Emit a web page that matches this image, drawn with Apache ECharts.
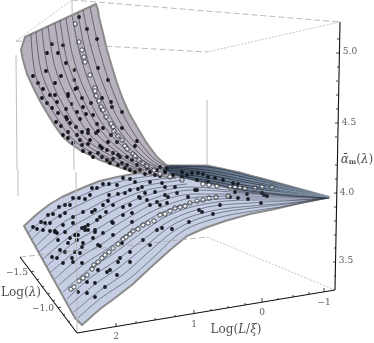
<!DOCTYPE html>
<html><head><meta charset="utf-8">
<style>html,body{margin:0;padding:0;background:#fff}#c{width:374px;height:343px}</style>
<script src="https://cdn.jsdelivr.net/npm/echarts@6/dist/echarts.min.js"></script>
</head><body><div id="c"></div>
<script>
// All coordinates below are projected plot-plane readings (x, y).
const upperOutline=[[25,37],[96,4],[98,10],[99,17],[103,33],[107,50],[112,67],[117,83],[122,97],[129,113],[137,127],[146,142],[157,157],[165,164],[172,168],[175,178],[133,172],[116,166],[100,160],[90,155],[80,150],[71,144],[63,137],[55,126],[47,113],[40,101],[33,87],[27,74],[23,60],[21,50]];
const lowerOutline=[[24,226],[37,214],[50,204],[62,197],[73,192],[87,186],[100,181],[117,177],[133,174],[150,171],[165,170],[207,168],[260,178],[329,197],[300,203],[275,209],[250,214],[225,221],[205,228],[187,236],[170,250],[150,268],[133,284],[115,298],[100,309],[82,325],[75,318]];
const bandOutline=[[167,165],[207,165],[240,172],[285,185],[329,197],[290,196],[240,191],[200,182],[180,177],[160,170]];
const upperMesh=[
[[31,34],[36,77],[52,110],[77,143],[114,162],[138,172]],
[[36,32],[42,74],[58,107],[82,141],[117,162],[141,171]],
[[42,29],[48,70],[63,105],[86,139],[121,161],[144,171]],
[[48,26],[55,67],[69,101],[92,137],[125,160],[147,171]],
[[55,23],[62,63],[76,98],[97,134],[129,160],[151,170]],
[[60,20],[67,60],[81,95],[102,132],[132,159],[153,170]],
[[66,18],[73,57],[86,93],[107,130],[136,158],[156,170]],
[[72,15],[80,54],[92,90],[112,128],[140,158],[159,169]],
[[78,13],[85,50],[97,87],[116,126],[143,157],[162,169]],
[[83,10],[91,47],[103,84],[121,124],[147,156],[165,169]],
[[90,7],[98,44],[109,81],[127,122],[151,156],[169,168]]];
const lowerMesh=[
[[28,233],[54,211],[77,198],[104,186],[137,178],[178,173]],
[[32,239],[57,217],[81,204],[108,192],[140,182],[181,177]],
[[36,246],[61,224],[85,211],[112,197],[144,186],[184,180]],
[[39,252],[65,231],[89,217],[116,202],[147,190],[187,184]],
[[43,259],[68,238],[93,223],[120,207],[151,194],[190,187],[245,192],[329,198]],
[[47,266],[72,244],[97,229],[124,213],[155,198],[193,190],[246,193],[329,198]],
[[51,272],[76,251],[101,235],[128,218],[158,202],[196,194],[247,194],[286,196],[329,198]],
[[55,279],[79,258],[105,242],[132,223],[162,207],[199,197],[247,196],[286,197],[329,198]],
[[59,285],[83,265],[109,248],[136,228],[165,211],[202,201],[248,198],[286,198],[329,198]],
[[63,292],[87,271],[113,254],[140,234],[169,215],[205,204],[249,200],[286,200],[329,198]],
[[67,299],[90,278],[117,260],[144,239],[173,219],[208,207],[250,203],[286,201],[329,198]],
[[70,305],[94,285],[121,266],[148,244],[176,223],[211,211],[251,206],[287,203],[329,198]],
[[74,312],[98,292],[125,273],[152,249],[180,227],[214,214],[252,208],[287,204],[329,198]],
[[78,318],[101,298],[129,279],[156,255],[183,231],[217,218],[253,211],[287,206],[329,198]]];
const bandMesh=[
[[170,166],[207,167],[245,175],[329,197]],
[[168,167],[207,170],[248,178],[329,197]],
[[166,168],[205,172],[250,181],[329,197]],
[[165,170],[203,174],[250,183],[329,197]],
[[170,173],[203,177],[250,186],[329,197]],
[[175,175],[200,179],[250,188],[329,197]],
[[180,177],[205,182],[250,191],[329,197]]];
const upperBlack=[[79,17],[87,29],[97,39],[52,44],[63,45],[47,53],[58,53],[66,63],[74,70],[98,68],[46,71],[33,76],[61,76],[108,80],[38,83],[55,83],[74,80],[77,88],[75,89],[43,89],[68,94],[68,96],[50,95],[55,95],[82,98],[42,98],[57,102],[47,103],[102,98],[111,102],[112,107],[66,109],[72,104],[83,107],[91,103],[102,110],[52,108],[58,113],[66,117],[67,119],[77,112],[80,119],[86,114],[93,115],[122,112],[56,122],[61,126],[70,123],[76,127],[88,130],[88,133],[97,124],[103,128],[122,128],[63,135],[68,132],[68,138],[77,135],[82,132],[80,140],[90,140],[96,133],[98,131],[108,142],[111,135],[137,141],[135,146],[117,142],[73,143],[82,145],[88,144],[100,146],[102,148],[113,153],[118,155],[120,157],[83,151],[90,153],[98,153],[107,150],[127,157],[102,157],[107,160],[113,159],[122,163],[132,160],[93,157],[127,165],[137,165],[147,168],[157,170],[118,165],[125,168],[140,170],[110,163],[130,170],[150,172],[135,172],[145,174],[155,175],[165,172],[160,176]];
const lowerBlack=[[33,227],[37,229],[43,230],[41,222],[45,223],[50,223],[48,215],[53,214],[60,216],[65,213],[59,207],[65,205],[70,205],[73,198],[79,198],[85,199],[90,195],[92,188],[97,188],[103,184],[109,184],[117,185],[123,178],[130,179],[135,182],[73,217],[83,212],[92,212],[95,210],[103,205],[108,201],[109,195],[118,194],[125,193],[130,190],[138,189],[55,231],[63,225],[57,233],[50,231],[73,223],[82,228],[85,227],[88,230],[76,235],[95,232],[97,220],[100,217],[106,212],[113,205],[123,207],[130,205],[140,198],[112,222],[123,215],[132,213],[139,197],[103,233],[113,235],[70,238],[78,235],[55,232],[65,232],[75,235],[85,230],[95,230],[88,225],[113,223],[132,222],[58,240],[68,243],[77,240],[83,243],[93,238],[98,245],[60,250],[65,252],[75,252],[82,247],[52,257],[57,258],[72,258],[73,262],[80,253],[100,246],[122,243],[143,240],[150,245],[162,228],[130,252],[120,258],[118,262],[130,262],[110,270],[107,272],[98,270],[117,275],[87,282],[95,283],[105,287],[78,292],[87,293],[95,297],[82,263],[63,263],[172,229],[157,230],[188,197],[195,190],[167,203],[160,205],[157,202],[165,195],[168,197],[177,193],[150,182],[162,183],[175,187],[165,187],[155,192],[145,193],[142,187],[147,200],[220,205],[230,197],[150,205],[213,214],[199,210],[202,212],[189,222],[247,194],[264,195],[261,203],[238,198],[248,199]];
const bandBlack=[[182,172],[192,173],[198,173],[203,174],[208,177],[215,178],[223,180],[233,183],[182,177],[187,175],[197,180],[208,182],[160,167],[167,168],[165,172],[173,175],[197,190],[238,184],[235,192],[267,196],[262,193]];
const upperWhite=[[75,24],[79,42],[82,50],[84,57],[85,62],[90,75],[95,88],[95,91],[96,96],[99,101],[101,107],[103,110],[106,117],[111,124],[113,127],[114,131],[118,136],[122,140],[125,146],[127,149],[133,154],[135,156],[139,160],[143,163],[147,166],[154,170],[160,174],[170,177],[182,180],[203,184],[209,185],[217,186],[230,187],[235,187],[240,187],[245,188],[255,188],[262,187],[272,187]];
const lowerWhite=[[71,289],[74,287],[79,281],[83,278],[87,275],[92,269],[94,265],[98,262],[102,258],[105,255],[109,252],[113,248],[118,244],[123,239],[126,237],[130,234],[133,231],[138,229],[143,225],[148,223],[154,221],[160,215],[165,214],[170,211],[175,208],[180,207],[185,206],[190,203],[197,201],[203,200],[209,198],[216,197],[228,196]];
const frameDashed=[[[16,41],[207,52]],[[72,0],[340,22]],[[20,257],[207,237]]];
const frameDotted=[[[16,41],[72,0]],[[207,52],[340,22]],[[207,237],[335,290]]];
const frameGrey=[[[16,55],[17,170]],[[18,170],[18,196]],[[72,0],[74,170]],[[76,172],[77,332]],[[207,100],[207,165]]];
const axisBlack=[[[340,22],[335,290]],[[77,333],[335,290]],[[20,257],[77,333]]];
const tickSegments=[[[339,39],[337,39]],[[339,53],[336,53]],[[339,67],[337,67]],[[338,81],[336,81]],[[338,95],[336,95]],[[338,109],[336,109]],[[338,123],[335,123]],[[337,137],[335,137]],[[337,165],[335,165]],[[337,179],[335,179]],[[337,193],[334,193]],[[336,207],[334,207]],[[336,221],[334,221]],[[336,235],[334,235]],[[336,248],[334,248]],[[336,262],[333,262]],[[336,276],[334,276]],
[[116,327],[116,323]],[[194,314],[194,310]],[[262,302],[262,298]],[[324,292],[324,288]],[[136,323],[136,321]],[[155,320],[155,318]],[[175,317],[175,315]],[[211,311],[211,309]],[[228,308],[228,306]],[[245,305],[245,303]],[[278,300],[278,298]],[[293,297],[293,295]],[[309,294],[309,292]],
[[31,272],[34,271]],[[58,308],[61,307]],[[37,280],[39,279]],[[42,287],[44,286]],[[48,294],[50,293]],[[53,301],[55,300]],[[63,315],[65,314]],[[68,322],[70,321]]];
const tickLabels=[['5.0',350,52],['4.5',349,123],['4.0',347,193],['3.5',346,261],['\u22121.5',17,273],['\u22121.0',43,309],['2',116,337],['1',194,325],['0',262,313],['\u22121',324,303]];
const axisTitles=[['{r|\u1FB1}{s|m}{p|(}{r|\u03BB}{p|)}',357,160],['{p|Log(}{r|\u03BB}{p|)}',21,293],['{p|Log(}{r|L}{p|/}{r|\u03BE}{p|)}',236,330]];

const FONT='"DejaVu Serif"';
function poly(pts,fill,stroke,w){return{type:'custom',coordinateSystem:'cartesian2d',silent:true,data:[[0,0]],
  renderItem:(p,api)=>({type:'polygon',shape:{points:pts.map(q=>api.coord(q))},style:{fill:fill,stroke:stroke,lineWidth:w,lineJoin:'round'}})};}
function lines(set,color,w,type,smooth,op){return set.map(d=>({type:'line',data:d,smooth:smooth?0.35:false,symbol:'none',silent:true,lineStyle:{color:color,width:w,type:type||'solid',opacity:op==null?1:op}}));}
function dots(d,size,fill,border,bw){return{type:'scatter',data:d,symbolSize:size,silent:true,itemStyle:{color:fill,borderColor:border,borderWidth:bw,opacity:1}};}
const bandLine=new echarts.graphic.LinearGradient(0,0,1,0,[{offset:0,color:'#1f2733'},{offset:0.55,color:'#2d394a'},{offset:1,color:'#8a9bb0'}]);
const chart=echarts.init(document.getElementById('c'),null,{renderer:'canvas'});
chart.setOption({animation:false,backgroundColor:'#fff',
 grid:{left:0,right:0,top:0,bottom:0},
 xAxis:{type:'value',min:0,max:374,show:false},
 yAxis:{type:'value',min:0,max:343,inverse:true,show:false},
 series:[
  poly(lowerOutline,'#c5cee2','#8b8b8b',2),
  poly(upperOutline,'#b6b1bd','#8b8b8b',2),
  ...lines(frameDashed,'#a8a8a8',0.8,[6,3]),
  ...lines(frameDotted,'#b5b5b5',0.8,[2,1.5]),
  ...lines(frameGrey,'#bdbdbd',1),
  ...lines(axisBlack,'#111',1.1),
  ...lines(tickSegments,'#111',0.8),
  ...lines(upperMesh,'#45434d',0.7,null,true),
  ...lines(lowerMesh,'#333b4d',0.55,null,true),
  poly(bandOutline,new echarts.graphic.LinearGradient(0,0,1,0,[{offset:0,color:'#46556a'},{offset:0.55,color:'#7a8ba1'},{offset:1,color:'#a9b8cc'}]),'#8b8b8b',1.2),
  ...lines(bandMesh,bandLine,0.8,null,true),
  dots(lowerBlack,3.8,'#14171f','#14171f',0),
  dots(upperBlack,3.8,'#121216','#121216',0),
  dots(bandBlack,3.8,'#0d1016','#0d1016',0),
  dots(lowerWhite,4.4,'#f4f4f4','#2c3038',0.9),
  dots(upperWhite,4.4,'#f4f4f4','#2c3038',0.9),
  {type:'scatter',silent:true,symbolSize:0,data:tickLabels.map(t=>({name:t[0],value:[t[1],t[2]]})),
   label:{show:true,position:'inside',formatter:'{b}',fontFamily:FONT,fontSize:9,color:'#333'}},
  {type:'scatter',silent:true,symbolSize:0,data:axisTitles.map(t=>({name:t[0],value:[t[1],t[2]]})),
   label:{show:true,position:'inside',formatter:p=>p.name,rich:{
     p:{fontFamily:FONT,fontSize:12,color:'#222'},
     r:{fontFamily:FONT,fontSize:12,fontStyle:'italic',color:'#222'},
     s:{fontFamily:FONT,fontSize:7,fontWeight:'bold',color:'#222',verticalAlign:'bottom',padding:[4,0,0,0]}}}}
 ]});
</script></body></html>
